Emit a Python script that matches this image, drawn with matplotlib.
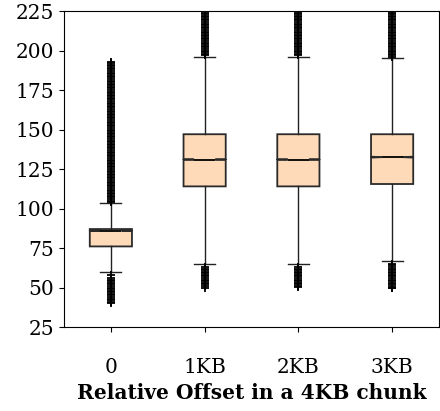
import matplotlib as mpl
import matplotlib.pyplot as plt

mpl.rcParams.update({
    "font.family": "DejaVu Serif",
    "font.size": 14.5,
})

# categories and box statistics
OFFSETS = ["0", "1KB", "2KB", "3KB"]
Q1 = [76, 114, 114, 115.5]
MED = [86, 131, 131, 132.5]
Q3 = [87, 147, 147, 147]
WHISK_LO = [60, 65, 65, 67]
WHISK_HI = [103.5, 196, 196, 195]

# outliers (dense columns of points)
FLIERS = [
    [104, 105, 106, 107, 108, 109, 110, 111, 112, 113, 114, 115, 116, 117, 118,
     119, 120, 121, 122, 123, 124, 125, 126, 127, 128, 129, 130, 131, 132, 133,
     134, 135, 136, 137, 138, 139, 140, 141, 142, 143, 144, 145, 146, 147, 148,
     149, 150, 151, 152, 153, 154, 155, 156, 157, 158, 159, 160, 161, 162, 163,
     164, 165, 166, 167, 168, 169, 170, 171, 172, 173, 174, 175, 176, 177, 178,
     179, 180, 181, 182, 183, 184, 185, 186, 187, 188, 189, 190, 191, 192, 193,
     58, 56, 55, 54, 53, 52, 51, 50, 49, 48, 47, 46, 45, 44, 43, 42, 41, 40.5],
    [197, 198, 199, 200, 201, 202, 203, 204, 205, 206, 207, 208, 209, 210, 211,
     212, 213, 214, 215, 216, 217, 218, 219, 220, 221, 222, 223, 224, 225, 227,
     63, 62, 61, 60, 59, 58, 57, 56, 55, 54, 53, 52, 51, 50],
    [197, 198, 199, 200, 201, 202, 203, 204, 205, 206, 207, 208, 209, 210, 211,
     212, 213, 214, 215, 216, 217, 218, 219, 220, 221, 222, 223, 224, 225, 227,
     63, 62, 61, 60, 59, 58, 57, 56, 55, 54, 53, 52, 51, 50.5],
    [196, 197, 198, 199, 200, 201, 202, 203, 204, 205, 206, 207, 208, 209, 210,
     211, 212, 213, 214, 215, 216, 217, 218, 219, 220, 221, 222, 223, 224, 225, 227,
     65, 64, 63, 62, 61, 60, 59, 58, 57, 56, 55, 54, 53, 52, 51, 50, 49.5],
]

stats = []
for i, name in enumerate(OFFSETS):
    stats.append({
        "label": name, "med": MED[i], "q1": Q1[i], "q3": Q3[i],
        "whislo": WHISK_LO[i], "whishi": WHISK_HI[i],
        "cilo": MED[i] - 0.3, "cihi": MED[i] + 0.3,
        "fliers": FLIERS[i],
    })

fig = plt.figure(figsize=(4.4, 4.11), dpi=100)
ax = fig.add_axes([64 / 440, 1 - 327 / 411, 375 / 440, 316 / 411])

ax.bxp(stats, shownotches=True, patch_artist=True,
       boxprops=dict(facecolor="#fedab8", edgecolor="#2a2a2a", linewidth=1.3),
       medianprops=dict(color="black", linewidth=1.3),
       whiskerprops=dict(color="#222222", linewidth=1.0),
       capprops=dict(color="#222222", linewidth=1.0),
       flierprops=dict(marker="+", markeredgecolor="black", markersize=6,
                       markeredgewidth=1.3))

ax.set_ylim(25, 225)
ax.set_xlim(0.5, 4.5)
ax.set_yticks([25, 50, 75, 100, 125, 150, 175, 200, 225])
ax.tick_params(axis="x", pad=19)
ax.set_xlabel("Relative Offset in a 4KB chunk", fontweight="bold", labelpad=4)

fig.savefig("out.png", dpi=100)
